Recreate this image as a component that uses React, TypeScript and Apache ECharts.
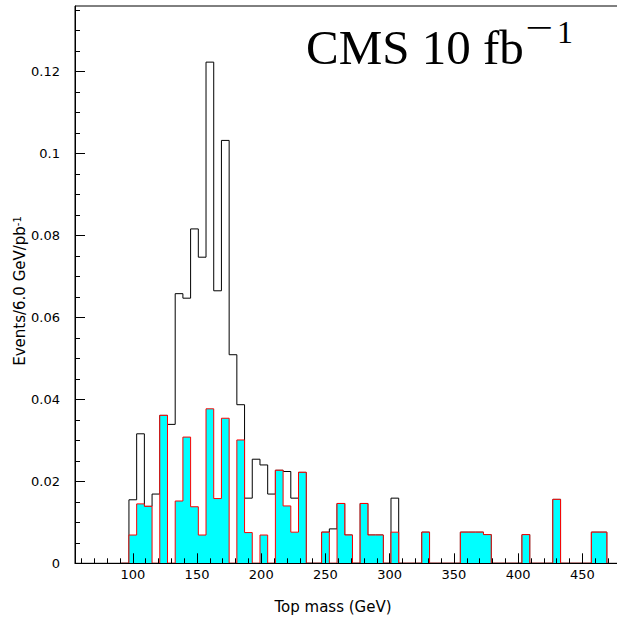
import React, { useEffect, useRef } from 'react';
import * as echarts from 'echarts';

// Histogram binning (GeV)
const BIN_START = 97;
const BIN_WIDTH = 6;

// Total (black outline) per bin, bins starting at 97 GeV, width 6 GeV
const totalCounts = [
  0.0155, 0.0316, 0.0139, 0.0169, 0.0361, 0.0339, 0.0658, 0.0647, 0.0816, 0.0747,
  0.1223, 0.0665, 0.1032, 0.0509, 0.0387, 0.0159, 0.0254, 0.0240, 0.0169, 0.0227,
  0.0224, 0.0159, 0.0222, 0, 0, 0.0076, 0.0084, 0.0146, 0.0069, 0,
  0.0146, 0.0069, 0.0069, 0, 0.0159, 0, 0, 0, 0.0076, 0,
  0, 0, 0, 0.0076, 0.0076, 0.0076, 0.0070, 0, 0, 0,
  0, 0.0070, 0, 0, 0, 0.0156, 0, 0, 0, 0,
  0.0076, 0.0076,
];

// Signal (cyan filled, red outline) per bin
const signalCounts = [
  0.0069, 0.0145, 0.0139, 0, 0.0361, 0, 0.0152, 0.0308, 0.0138, 0.0069,
  0.0377, 0.0158, 0.0354, 0, 0.0301, 0.0075, 0, 0.0069, 0, 0.0227,
  0.0140, 0.0076, 0.0222, 0, 0, 0.0076, 0, 0.0146, 0.0069, 0,
  0.0146, 0.0069, 0.0069, 0, 0.0076, 0, 0, 0, 0.0076, 0,
  0, 0, 0, 0.0076, 0.0076, 0.0076, 0.0070, 0, 0, 0,
  0, 0.0070, 0, 0, 0, 0.0156, 0, 0, 0, 0,
  0.0076, 0.0076,
];

const xLabelTicks = [100, 150, 200, 250, 300, 350, 400, 450];
const yLabelTicks = [0, 0.02, 0.04, 0.06, 0.08, 0.1, 0.12];

const X_MIN = 55;
const X_MAX = 478.5;
const Y_MIN = 0;
const Y_MAX = 0.136;

const xMinorTicks: number[] = [];
for (let v = 60; v <= 470; v += 10) xMinorTicks.push(v);
const yMinorTicks: number[] = [];
for (let i = 0; i <= 27; i++) yMinorTicks.push(Math.round(i * 5) / 1000);

function stepPoints(values: number[]): number[][] {
  const pts: number[][] = [[BIN_START - BIN_WIDTH, 0]];
  values.forEach((v, i) => pts.push([BIN_START + i * BIN_WIDTH, v]));
  pts.push([BIN_START + values.length * BIN_WIDTH, 0]);
  return pts;
}

const SANS = '"DejaVu Sans", Verdana, sans-serif';
const SERIF = '"Liberation Serif", "Times New Roman", serif';

export default function App() {
  const ref = useRef<HTMLDivElement>(null);

  useEffect(() => {
    if (!ref.current) return;
    const chart = echarts.init(ref.current, undefined, { renderer: 'svg' });
    const tickLine = { color: '#000', width: 1 };
    const option: any = {
      animation: false,
      backgroundColor: '#fff',
      grid: {
        left: 75,
        top: 6,
        right: -2,
        bottom: 56.7,
        show: true,
        borderColor: '#000',
        borderWidth: 1,
        backgroundColor: 'transparent',
        containLabel: false,
        outerBoundsMode: 'none',
      },
      xAxis: [
        {
          type: 'value',
          min: X_MIN,
          max: X_MAX,
          position: 'bottom',
          z: 10,
          axisLine: { show: true, onZero: false, lineStyle: tickLine },
          axisTick: { show: true, inside: true, length: 10, customValues: xLabelTicks, lineStyle: tickLine },
          axisLabel: {
            show: true,
            customValues: xLabelTicks,
            color: '#000',
            fontSize: 13,
            fontFamily: SANS,
            margin: 5,
          },
          splitLine: { show: false },
        },
        {
          type: 'value',
          min: X_MIN,
          max: X_MAX,
          position: 'bottom',
          z: 10,
          axisLine: { show: false, onZero: false },
          axisTick: { show: true, inside: true, length: 5, customValues: xMinorTicks, lineStyle: tickLine },
          axisLabel: { show: false },
          splitLine: { show: false },
        },
      ],
      yAxis: [
        {
          type: 'value',
          min: Y_MIN,
          max: Y_MAX,
          position: 'left',
          z: 10,
          axisLine: { show: true, onZero: false, lineStyle: tickLine },
          axisTick: { show: true, inside: true, length: 10, customValues: yLabelTicks, lineStyle: tickLine },
          axisLabel: {
            show: true,
            customValues: yLabelTicks,
            color: '#000',
            fontSize: 13,
            fontFamily: SANS,
            margin: 15,
          },
          splitLine: { show: false },
        },
        {
          type: 'value',
          min: Y_MIN,
          max: Y_MAX,
          position: 'left',
          z: 10,
          axisLine: { show: false, onZero: false },
          axisTick: { show: true, inside: true, length: 5, customValues: yMinorTicks, lineStyle: tickLine },
          axisLabel: { show: false },
          splitLine: { show: false },
        },
      ],
      series: [
        {
          name: 'Total',
          type: 'line',
          xAxisIndex: 0,
          yAxisIndex: 0,
          step: 'end',
          showSymbol: false,
          symbol: 'none',
          z: 2,
          lineStyle: { color: '#000', width: 1, join: 'miter' },
          data: stepPoints(totalCounts),
        },
        {
          name: 'Signal',
          type: 'line',
          xAxisIndex: 0,
          yAxisIndex: 0,
          step: 'end',
          showSymbol: false,
          symbol: 'none',
          z: 3,
          lineStyle: { color: '#ff0000', width: 1, join: 'miter' },
          areaStyle: { color: '#00ffff', opacity: 1, origin: 'start' },
          data: stepPoints(signalCounts),
        },
      ],
      graphic: [
        {
          type: 'text',
          x: 306,
          y: 47,
          z: 100,
          style: {
            text: 'CMS 10 fb',
            fontSize: 49,
            fontFamily: SERIF,
            fill: '#000',
            align: 'left',
            verticalAlign: 'middle',
          },
        },
        {
          type: 'text',
          x: 525,
          y: 27,
          scaleX: 1.45,
          z: 100,
          style: {
            text: '\u2212',
            fontSize: 34,
            fontFamily: SERIF,
            fill: '#000',
            align: 'left',
            verticalAlign: 'middle',
          },
        },
        {
          type: 'text',
          x: 557,
          y: 32,
          z: 100,
          style: {
            text: '1',
            fontSize: 32,
            fontFamily: SERIF,
            fill: '#000',
            align: 'left',
            verticalAlign: 'middle',
          },
        },
        {
          type: 'text',
          x: 333,
          y: 607,
          z: 100,
          style: {
            text: 'Top mass (GeV)',
            fontSize: 15,
            fontFamily: SANS,
            fill: '#000',
            align: 'center',
            verticalAlign: 'middle',
          },
        },
        {
          type: 'text',
          x: 19.5,
          y: 291,
          rotation: Math.PI / 2,
          z: 100,
          style: {
            text: '{a|Events/6.0 GeV/pb}{s|-1}',
            rich: {
              a: { fontSize: 15, fontFamily: SANS, fill: '#000' },
              s: { fontSize: 10, fontFamily: SANS, fill: '#000', verticalAlign: 'top' },
            },
            align: 'center',
            verticalAlign: 'middle',
          },
        },
      ],
    };
    chart.setOption(option);
    return () => {
      chart.dispose();
    };
  }, []);

  return (
    <div
      ref={ref}
      style={{ position: 'fixed', left: 0, top: 0, width: 617, height: 620, background: '#fff' }}
    />
  );
}
